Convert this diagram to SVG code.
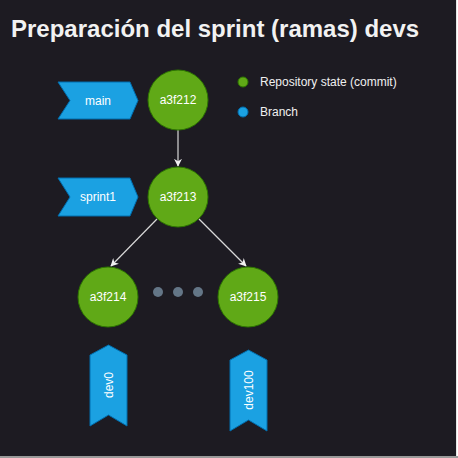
<svg xmlns="http://www.w3.org/2000/svg" width="458" height="458" viewBox="0 0 458 458">
<style>
.commit{fill:#60a917;stroke:#2d7600;stroke-width:1}
.branch{fill:#1ba1e2;stroke:#006eaf;stroke-width:1}
.lbl{font-family:"Liberation Sans",Arial,sans-serif;font-size:12px;fill:#ffffff;text-anchor:middle;dominant-baseline:central}
.legend{font-family:"Liberation Sans",Arial,sans-serif;font-size:12px;fill:#f0f0f0}
.edge{stroke:#d8d8d8;stroke-width:1.2;fill:none;marker-end:url(#ah)}
.dot{fill:#647687}
</style>
<defs>
<marker id="ah" viewBox="0 0 10 10" refX="9" refY="5" markerWidth="8" markerHeight="8" markerUnits="userSpaceOnUse" orient="auto">
<path d="M0,0 L10,5 L0,10 L3,5 Z" fill="#f0f0f0"/>
</marker>
</defs>
<rect x="0" y="0" width="456" height="456" fill="#1d1b22"/>
<line x1="456.5" y1="0" x2="456.5" y2="456" stroke="#e6e6e6" stroke-width="1"/>
<rect x="0" y="456" width="458" height="2" fill="#9a9a9a"/>
<text x="11" y="37" font-family="'Liberation Sans',Arial,sans-serif" font-size="24" font-weight="bold" fill="#f2f2f2">Preparación del sprint (ramas) devs</text>
<g id="connectors">
<line class="edge" x1="178" y1="130" x2="178" y2="166"/>
<line class="edge" x1="157" y1="219" x2="111" y2="266"/>
<line class="edge" x1="199" y1="219" x2="246" y2="266"/>
</g>
<g id="main"><path class="branch" d="M58,82 L130,82 L138,100.5 L130,119 L58,119 L70,100.5 Z"/><text class="lbl" x="98" y="100.5">main</text></g>
<g id="sprint1"><path class="branch" d="M58,178 L130,178 L138,197 L130,216 L58,216 L70,197 Z"/><text class="lbl" x="98" y="197">sprint1</text></g>
<g id="a3f212"><circle class="commit" cx="178" cy="100" r="30"/><text class="lbl" x="178" y="100">a3f212</text></g>
<g id="a3f213"><circle class="commit" cx="178" cy="197" r="30"/><text class="lbl" x="178" y="197">a3f213</text></g>
<g id="a3f214"><circle class="commit" cx="108" cy="297" r="30"/><text class="lbl" x="108" y="297">a3f214</text></g>
<g id="a3f215"><circle class="commit" cx="248" cy="297" r="30"/><text class="lbl" x="248" y="297">a3f215</text></g>
<g id="dots"><circle class="dot" cx="158" cy="292" r="5"/><circle class="dot" cx="178" cy="292" r="5"/><circle class="dot" cx="198" cy="292" r="5"/></g>
<g id="dev0"><path class="branch" d="M90,355 L108.5,345 L127,355 L127,426 L108.5,415 L90,426 Z"/><text class="lbl" x="0" y="0" transform="translate(108.5,385) rotate(-90)">dev0</text></g>
<g id="dev100"><path class="branch" d="M230,360 L248.5,350 L267,360 L267,431 L248.5,420 L230,431 Z"/><text class="lbl" x="0" y="0" transform="translate(248.5,390) rotate(-90)">dev100</text></g>
<g id="legend">
<circle cx="243" cy="82" r="5" fill="#60a917" stroke="#2d7600" stroke-width="1"/>
<text class="legend" x="260" y="86">Repository state (commit)</text>
<circle cx="243" cy="112" r="5" fill="#1ba1e2" stroke="#006eaf" stroke-width="1"/>
<text class="legend" x="260" y="116">Branch</text>
</g>
</svg>
